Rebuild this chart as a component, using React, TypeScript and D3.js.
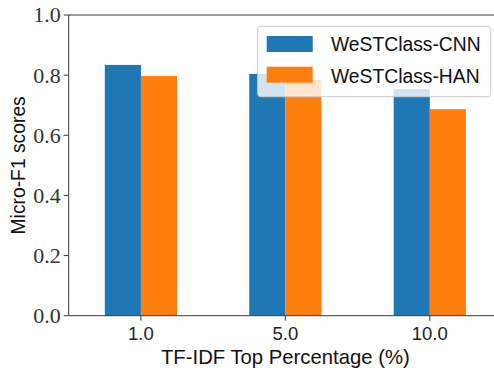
import React from "react";
import * as d3 from "d3";

const categories = ["1.0", "5.0", "10.0"];
const seriesNames = ["WeSTClass-CNN", "WeSTClass-HAN"];
const cnnScores = [0.834, 0.804, 0.754];
const hanScores = [0.797, 0.784, 0.687];
const yTicks = [0.0, 0.2, 0.4, 0.6, 0.8, 1.0];
const colors = ["#1f77b4", "#ff7f0e"];

const W = 494;
const H = 368;
const margin = { left: 68.7, right: -8, top: 15, bottom: 52.3 };

export default function App() {
  const series = [cnnScores, hanScores];
  const x = d3
    .scaleLinear()
    .domain([-0.5, categories.length - 0.5])
    .range([margin.left, W - margin.right]);
  const y = d3
    .scaleLinear()
    .domain([0, 1])
    .range([H - margin.bottom, margin.top]);
  const barW = 0.25;
  const sans = "'Liberation Sans', Arial, sans-serif";
  const serif = "'Liberation Serif', 'Times New Roman', serif";
  const axisColor = "#3a3a3a";

  return (
    <svg
      width={W}
      height={H}
      style={{ position: "absolute", left: 0, top: 0, background: "#fff" }}
    >
      {/* bars */}
      {series.map((vals, si) =>
        vals.map((v, ci) => {
          const x0 = x(ci - barW + si * barW);
          const x1 = x(ci + si * barW);
          return (
            <rect
              key={`${si}-${ci}`}
              x={x0}
              y={y(v)}
              width={x1 - x0}
              height={y(0) - y(v)}
              fill={colors[si]}
            />
          );
        })
      )}

      {/* spines */}
      <line x1={x(-0.5)} x2={x(-0.5)} y1={y(0)} y2={y(1)} stroke={axisColor} strokeWidth={1} />
      <line x1={x(-0.5)} x2={W} y1={y(0)} y2={y(0)} stroke={axisColor} strokeWidth={1} />
      <line x1={x(-0.5)} x2={W} y1={y(1)} y2={y(1)} stroke={axisColor} strokeWidth={1} />

      {/* y ticks */}
      {yTicks.map((t) => (
        <g key={t}>
          <line x1={x(-0.5) - 5} x2={x(-0.5)} y1={y(t)} y2={y(t)} stroke={axisColor} strokeWidth={1} />
          <text
            x={x(-0.5) - 8}
            y={y(t)}
            dy="0.34em"
            textAnchor="end"
            fontFamily={serif}
            fontSize={22}
            fill="#333"
          >
            {t.toFixed(1)}
          </text>
        </g>
      ))}

      {/* x ticks */}
      {categories.map((c, i) => (
        <g key={c}>
          <line x1={x(i)} x2={x(i)} y1={y(0)} y2={y(0) + 5} stroke={axisColor} strokeWidth={1} />
          <text
            x={x(i)}
            y={y(0) + 24.5}
            textAnchor="middle"
            fontFamily={sans}
            fontSize={18.5}
            fill="#222"
          >
            {c}
          </text>
        </g>
      ))}

      {/* axis titles */}
      <text
        x={x(1)}
        y={364}
        textAnchor="middle"
        fontFamily={sans}
        fontSize={20.3}
        fill="#111"
      >
        TF-IDF Top Percentage (%)
      </text>
      <text
        transform={`translate(25,${(y(0) + y(1)) / 2}) rotate(-90)`}
        textAnchor="middle"
        fontFamily={sans}
        fontSize={19.3}
        fill="#111"
      >
        Micro-F1 scores
      </text>

      {/* legend */}
      <g>
        <rect
          x={257.7}
          y={26.3}
          width={233}
          height={70.4}
          rx={3}
          fill="#fff"
          fillOpacity={0.8}
          stroke="#ccc"
          strokeWidth={1}
        />
        {seriesNames.map((name, i) => (
          <g key={name}>
            <rect x={266.7} y={36 + i * 30.7} width={46} height={16} fill={colors[i]} />
            <text
              x={331}
              y={51.3 + i * 31.4}
              fontFamily={sans}
              fontSize={19.3}
              fill="#111"
            >
              {name}
            </text>
          </g>
        ))}
      </g>
    </svg>
  );
}
